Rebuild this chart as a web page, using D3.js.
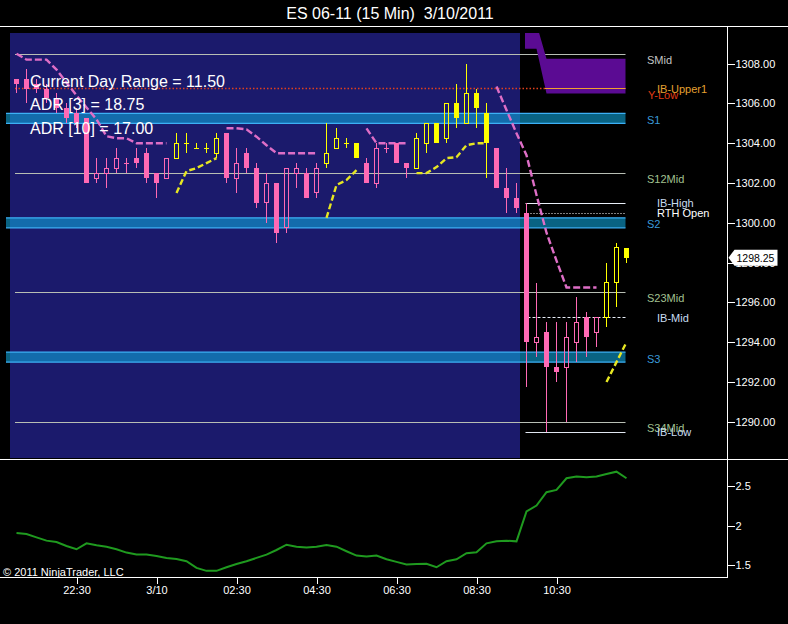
<!DOCTYPE html>
<html><head><meta charset="utf-8">
<script src="https://cdn.jsdelivr.net/npm/d3@7"></script>
<style>
body{margin:0;background:#000;}
svg{display:block;font-family:"Liberation Sans",Arial,sans-serif;}
</style>
</head><body>
<svg id="c" width="788" height="624"></svg>
<script>
// ---------------- DATA ----------------
const times = ["21:00","21:15","21:30","21:45","22:00","22:15","22:30","22:45","23:00","23:15","23:30","23:45",
"00:00","00:15","00:30","00:45","01:00","01:15","01:30","01:45","02:00","02:15","02:30","02:45",
"03:00","03:15","03:30","03:45","04:00","04:15","04:30","04:45","05:00","05:15","05:30","05:45",
"06:00","06:15","06:30","06:45","07:00","07:15","07:30","07:45","08:00","08:15","08:30","08:45",
"09:00","09:15","09:30","09:45","10:00","10:15","10:30","10:45","11:00","11:15","11:30","11:45","12:00","12:15"];
const opens = [1307.25,1307.25,1307.0,1306.75,1306.25,1305.75,1305.5,1305.25,1302.25,1302.5,1302.75,1303.0,
1303.25,1303.5,1302.5,1302.25,1303.25,1304.0,1303.75,1303.75,1303.5,1304.5,1302.25,1303.5,
1302.75,1301.0,1302.0,1299.75,1302.5,1302.5,1301.5,1303.0,1303.75,1304.0,1304.0,1303.0,
1302.0,1303.75,1304.0,1303.0,1302.75,1304.0,1305.0,1304.25,1306.0,1305.0,1306.5,1305.5,
1303.75,1301.75,1301.25,1300.5,1294.0,1294.5,1292.75,1292.75,1294.0,1295.25,1294.5,1295.25,1297.0,1298.75];
const highs = [1307.25,1307.75,1307.25,1307.0,1306.5,1306.0,1305.75,1305.25,1303.25,1303.25,1303.75,1303.25,
1303.75,1303.75,1302.5,1303.25,1304.5,1304.5,1304.0,1304.0,1304.5,1304.5,1303.75,1303.75,
1303.0,1302.5,1302.0,1302.75,1303.0,1302.75,1303.0,1305.0,1304.75,1304.25,1304.0,1303.25,
1304.0,1304.0,1304.0,1303.0,1304.5,1305.0,1305.0,1306.0,1307.0,1308.0,1306.75,1306.0,
1303.75,1302.75,1302.0,1301.0,1297.0,1295.0,1295.0,1295.0,1296.25,1295.5,1295.25,1298.0,1299.0,1298.75];
const lows = [1306.5,1306.0,1306.5,1306.0,1305.5,1305.0,1304.75,1302.0,1302.0,1301.75,1302.5,1302.5,
1302.75,1302.0,1301.25,1302.25,1303.25,1303.5,1303.75,1303.5,1303.25,1302.0,1301.5,1302.5,
1300.75,1300.0,1299.0,1299.5,1301.75,1301.25,1301.25,1302.75,1303.75,1303.75,1303.25,1302.0,
1301.75,1303.5,1303.0,1302.25,1302.75,1303.5,1304.0,1304.0,1304.75,1305.0,1304.75,1302.25,
1301.75,1300.5,1300.5,1291.75,1293.25,1289.5,1292.0,1290.0,1293.0,1293.25,1293.75,1294.75,1295.75,1298.0];
const closes = [1307.0,1306.75,1306.75,1306.25,1305.75,1305.25,1305.0,1302.0,1302.5,1302.75,1303.25,1303.0,
1303.0,1302.25,1302.0,1303.25,1304.0,1304.0,1303.75,1303.75,1304.25,1302.25,1303.0,1302.75,
1301.0,1302.0,1299.5,1302.75,1302.75,1301.25,1302.75,1303.5,1304.25,1304.0,1303.25,1302.0,
1303.75,1303.75,1303.0,1302.75,1304.25,1305.0,1304.0,1306.0,1305.25,1306.5,1305.75,1304.0,
1301.75,1301.25,1300.75,1294.0,1294.25,1292.75,1292.5,1294.25,1295.0,1294.25,1295.25,1297.0,1298.75,1298.25];
// trailing stop: upper (down-trend) and lower (up-trend) legs
const trailUpper = [1308.5,1308.2,1308.2,1308.2,1307.7,1307.05,1306.4,1305.8,1305.2,1304.35,1304.25,1304.25,
1304.0,1304.0,1304.0,1304.0,null,null,null,null,null,1304.75,1304.75,1304.7,
1304.33,1303.9,1303.5,1303.5,1303.5,1303.5,1303.5,null,null,null,null,1304.75,
1304.0,1304.0,1304.0,1304.0,null,null,null,null,null,null,null,null,
1306.85,1305.67,1304.5,1303.4,1301.4,1299.5,1298.1,1296.75,1296.75,1296.75,1296.75,null,null,null];
const trailLower = [null,null,null,null,null,null,null,null,null,null,null,null,
null,null,null,null,1301.5,1302.6,1302.75,1303.0,1303.25,null,null,null,
null,null,null,null,null,null,null,1300.25,1301.9,1302.15,1302.65,null,
null,null,null,null,1302.5,1302.5,1302.8,1303.25,1303.3,1303.9,1304.0,1304.0,
null,null,null,null,null,null,null,null,null,null,null,1292.0,1293.0,1294.0];
// IB extension cloud (RTH bars only)
const cloudUpper = [null,null,null,null,null,null,null,null,null,null,null,null,
null,null,null,null,null,null,null,null,null,null,null,null,
null,null,null,null,null,null,null,null,null,null,null,null,
null,null,null,null,null,null,null,null,null,null,null,null,
null,null,null,1310.0,1310.0,1308.25,1308.25,1308.25,1308.25,1308.25,1308.25,1308.25,1308.25,1308.25];
const cloudLower = [null,null,null,null,null,null,null,null,null,null,null,null,
null,null,null,null,null,null,null,null,null,null,null,null,
null,null,null,null,null,null,null,null,null,null,null,null,
null,null,null,null,null,null,null,null,null,null,null,null,
null,null,null,1308.75,1308.75,1306.5,1306.5,1306.5,1306.5,1306.5,1306.5,1306.5,1306.5,1306.5];
// lower panel indicator
const lowerValues = [1.908,1.895,1.853,1.812,1.795,1.745,1.703,1.778,1.753,1.736,1.703,1.661,
1.636,1.636,1.619,1.594,1.581,1.552,1.468,1.431,1.431,1.476,1.518,1.552,
1.594,1.636,1.694,1.761,1.736,1.724,1.736,1.757,1.736,1.678,1.623,1.611,
1.623,1.577,1.544,1.51,1.518,1.52,1.476,1.552,1.577,1.653,1.665,1.778,
1.803,1.812,1.803,2.18,2.255,2.423,2.452,2.599,2.62,2.611,2.62,2.653,2.682,2.599];
// levels
const midNames = ["SMid","S12Mid","S23Mid","S34Mid"];
const midValues = [1308.5,1302.5,1296.5,1290.0];
const bandNames = ["S1","S2","S3"];
const bandLow = [1305.0,1299.75,1293.0];
const bandHigh = [1305.5,1300.25,1293.5];
const ibNames = ["IB-High","RTH Open","IB-Mid","IB-Low"];
const ibValues = [1301.0,1300.5,1295.25,1289.5];
const ibUpperName = "IB-Upper1", ibUpperValue = 1306.75;
const yLowName = "Y-Low", yLowValue = 1306.75;
const rthFirstBar = "09:45";
const lastPrice = 1298.25;
const infoLines = ["Current Day Range = 11.50","ADR [3] = 18.75","ADR [10] = 17.00"];
const priceTicks = [1290,1292,1294,1296,1298,1300,1302,1304,1306,1308];
const lowerTicks = [1.5,2,2.5];
const xTickTimes = ["22:30","00:30","02:30","04:30","06:30","08:30","10:30"];
const xTickLabels = ["22:30","3/10","02:30","04:30","06:30","08:30","10:30"];
const title = "ES 06-11 (15 Min)  3/10/2011";
const copyright = "\u00A9 2011 NinjaTrader, LLC";

// ---------------- DRAW ----------------
const svg = d3.select("#c");
const AX = 727.5, TOP = 33, BOT = 458, LTOP = 460, LBOT = 577.5;
const x = d3.scalePoint().domain(times).range([16.5, 626.5]);
const y = d3.scaleLinear().domain([1288.18, 1309.54]).range([BOT, TOP]);
const y2 = d3.scaleLinear().domain([1.347, 2.829]).range([LBOT, LTOP]);
const n = times.length;
const x0 = x(times[0]), xN = x(times[n-1]);
const PINK = "#ff69b4", YEL = "#ffff00", NAVY = "#1b1a6c";

svg.append("rect").attr("width",788).attr("height",624).attr("fill","#000");
svg.append("defs").append("clipPath").attr("id","mc").append("rect")
  .attr("x",0).attr("y",TOP).attr("width",AX).attr("height",BOT-TOP);

// title
svg.append("text").attr("x",390).attr("y",19).attr("text-anchor","middle")
  .attr("fill","#fff").attr("font-size",16).style("white-space","pre").text(title);

const main = svg.append("g").attr("clip-path","url(#mc)");
// overnight session background
main.append("rect").attr("x",Math.round(x0-6.5)).attr("y",TOP)
  .attr("width",Math.round(x(rthFirstBar)-6.5) - Math.round(x0-6.5)).attr("height",BOT-TOP).attr("fill",NAVY);

// S bands
bandNames.forEach((nm,i)=>{
  const yt = y(bandHigh[i]), yb = y(bandLow[i]);
  main.append("rect").attr("x",x0-10.5).attr("y",yt).attr("width",xN-1-(x0-10.5)).attr("height",yb-yt)
    .attr("fill","rgb(15,160,212)").attr("fill-opacity",0.62);
  [yt,yb].forEach(yy=>main.append("line").attr("x1",x0-10.5).attr("x2",xN-1).attr("y1",yy).attr("y2",yy)
    .attr("stroke","#3cb0f5").attr("stroke-width",1.2));
});
// mid lines
midValues.forEach(v=>{
  main.append("line").attr("x1",x0-1.5).attr("x2",xN-1).attr("y1",Math.round(y(v))+0.5).attr("y2",Math.round(y(v))+0.5)
    .attr("stroke","#b8beb4").attr("stroke-width",1);
});
// Y-Low dotted
main.append("line").attr("x1",x0-1.5).attr("x2",xN-1).attr("y1",y(yLowValue)).attr("y2",y(yLowValue))
  .attr("stroke","#e2401c").attr("stroke-width",1.5).attr("stroke-dasharray","1.5,2");

// IB cloud
const cloudIdx = d3.range(n).filter(i=>cloudUpper[i]!=null);
const cpts = [cloudIdx[0]].concat(cloudIdx);
main.append("path").attr("d", d3.area().x((i,k)=> k===0 ? x(times[i])-1.5 : (k===cpts.length-1 ? x(times[i])-1 : x(times[i])))
   .y0(i=>y(cloudLower[i])).y1(i=>y(cloudUpper[i]))(cpts))
  .attr("fill","#5b0b93");
// IB-Upper1
const ibuStart = cloudIdx.find(i=>cloudLower[i]===cloudLower[n-1]);
main.append("line").attr("x1",x(times[ibuStart])-1.5).attr("x2",xN-1).attr("y1",y(ibUpperValue)).attr("y2",y(ibUpperValue))
  .attr("stroke","#f0a030").attr("stroke-width",1.2);

// IB lines
const ibX1 = x(rthFirstBar)-1;
const ibDash = ["", "1,2", "3,2", ""];
const ibCol = ["#e8eef8","#ffffff","#e8eef8","#e0e6f0"];
ibValues.forEach((v,i)=>{
  main.append("line").attr("x1",ibX1+(i===1||i===2?2:0)).attr("x2",xN-1)
    .attr("y1",Math.round(y(v))+0.5).attr("y2",Math.round(y(v))+0.5)
    .attr("stroke",ibCol[i]).attr("stroke-width",1).attr("stroke-dasharray",ibDash[i]||null);
});

// trailing stop lines
const lu = d3.line().defined(i=>trailUpper[i]!=null).x(i=>x(times[i])).y(i=>y(trailUpper[i]));
const ll = d3.line().defined(i=>trailLower[i]!=null).x(i=>x(times[i])).y(i=>y(trailLower[i]));
main.append("path").attr("d",lu(d3.range(n))).attr("fill","none").attr("stroke","#de6ec6")
  .attr("stroke-width",2.4).attr("stroke-dasharray","7,3");
main.append("path").attr("d",ll(d3.range(n))).attr("fill","none").attr("stroke","#e6e622")
  .attr("stroke-width",2.4).attr("stroke-dasharray","6,3");

// candles
const cg = main.append("g").attr("shape-rendering","crispEdges");
d3.range(n).forEach(i=>{
  const cx = x(times[i]);
  const col = trailUpper[i]!=null ? PINK : YEL;
  const o=opens[i], c=closes[i], h=highs[i], l=lows[i];
  const top = y(Math.max(o,c)), bot = y(Math.min(o,c));
  const g = cg.append("g");
  if (c > o) {
    g.append("line").attr("x1",cx).attr("x2",cx).attr("y1",y(h)).attr("y2",top).attr("stroke",col);
    g.append("line").attr("x1",cx).attr("x2",cx).attr("y1",bot).attr("y2",y(l)).attr("stroke",col);
    g.append("rect").attr("x",cx-2).attr("y",top).attr("width",4).attr("height",bot-top)
      .attr("fill","none").attr("stroke",col);
  } else if (c < o) {
    g.append("line").attr("x1",cx).attr("x2",cx).attr("y1",y(h)).attr("y2",y(l)).attr("stroke",col);
    g.append("rect").attr("x",cx-2.5).attr("y",top).attr("width",5).attr("height",Math.max(1,bot-top))
      .attr("fill",col);
  } else {
    g.append("line").attr("x1",cx).attr("x2",cx).attr("y1",y(h)).attr("y2",y(l)).attr("stroke",col);
    g.append("line").attr("x1",cx-2.5).attr("x2",cx+2.5).attr("y1",top).attr("y2",top).attr("stroke",col);
  }
});

// info text
infoLines.forEach((t,i)=>{
  svg.append("text").attr("x",30).attr("y",86.5+i*23.8).attr("fill","#fff").attr("font-size",16).text(t);
});

// level labels
const lab = svg.append("g").attr("font-size",11);
midNames.forEach((nm,i)=>lab.append("text").attr("x",647).attr("y",y(midValues[i])+10)
  .attr("fill", i===0 ? "#c4c4c4" : "#a2c090").text(nm));
bandNames.forEach((nm,i)=>lab.append("text").attr("x",647).attr("y",y(bandLow[i])+0.5)
  .attr("fill","#3a9ad8").text(nm));
ibNames.forEach((nm,i)=>lab.append("text").attr("x",657).attr("y",y(ibValues[i])+4.5)
  .attr("fill", i===1 ? "#ffffff" : "#c8dcf0").text(nm));
lab.append("text").attr("x",648).attr("y",y(yLowValue)+10).attr("fill","#e23c14").text(yLowName);
lab.append("text").attr("x",657).attr("y",y(ibUpperValue)+4.5).attr("fill","#e4a030").text(ibUpperName);

// lower panel line
const lg = d3.line().x((d,i)=>x(times[i])).y(d=>y2(d));
svg.append("path").attr("d",lg(lowerValues)).attr("fill","none").attr("stroke","#1f9a1f").attr("stroke-width",2);

// frame lines
const fr = svg.append("g").attr("stroke","#fff").attr("stroke-width",1).attr("shape-rendering","crispEdges");
fr.append("line").attr("x1",0).attr("x2",788).attr("y1",26.5).attr("y2",26.5);
fr.append("line").attr("x1",0).attr("x2",788).attr("y1",459.5).attr("y2",459.5);
fr.append("line").attr("x1",0).attr("x2",AX).attr("y1",LBOT).attr("y2",LBOT);
fr.append("line").attr("x1",AX).attr("x2",AX).attr("y1",26.5).attr("y2",LBOT);

// axes
function styleAxis(g){
  g.select(".domain").remove();
  g.selectAll("line").attr("stroke","#fff").attr("shape-rendering","crispEdges");
  g.selectAll("text").attr("fill","#fff").attr("font-size",11)
    .attr("font-family","'Liberation Sans',Arial,sans-serif");
}
svg.append("g").attr("transform",`translate(${AX},0)`)
  .call(d3.axisRight(y).tickValues(priceTicks).tickFormat(d3.format(".2f")).tickSize(7).tickPadding(1))
  .call(styleAxis);
svg.append("g").attr("transform",`translate(${AX},0)`)
  .call(d3.axisRight(y2).tickValues(lowerTicks).tickFormat(d=>String(d)).tickSize(7).tickPadding(1))
  .call(styleAxis);
svg.append("g").attr("transform",`translate(0,${LBOT})`)
  .call(d3.axisBottom(x).tickValues(xTickTimes).tickFormat((d,i)=>xTickLabels[i]).tickSize(6).tickPadding(3))
  .call(styleAxis);

// last price marker
const ly = y(lastPrice);
svg.append("path").attr("d",`M${AX+1},${ly} L${AX+7},${ly-8} L${AX+50},${ly-8} L${AX+50},${ly+8} L${AX+7},${ly+8} Z`)
  .attr("fill","#fff");
svg.append("text").attr("x",AX+9).attr("y",ly+4).attr("fill","#000").attr("font-size",10.5)
  .text(d3.format(".2f")(lastPrice));

// copyright
svg.append("text").attr("x",3).attr("y",576).attr("fill","#fff").attr("font-size",11).text(copyright);
</script>
</body></html>
